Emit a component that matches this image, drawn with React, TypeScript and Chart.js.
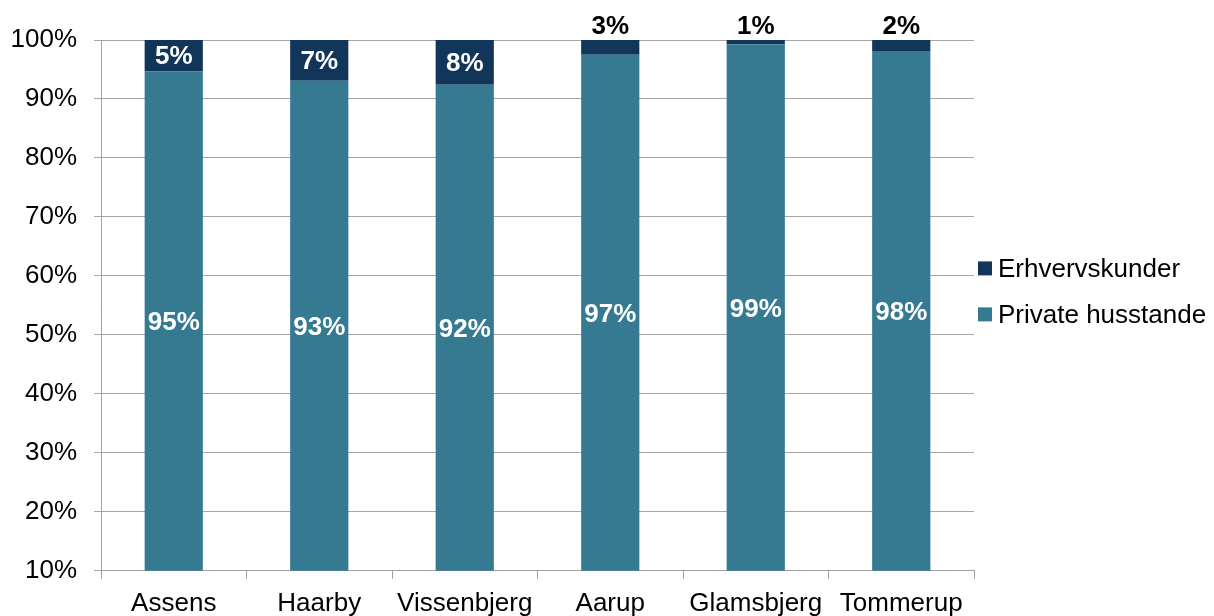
import React, { useEffect, useRef } from "react";
import { Chart, registerables } from "chart.js";

Chart.register(...registerables);

const categories = ["Assens", "Haarby", "Vissenbjerg", "Aarup", "Glamsbjerg", "Tommerup"];
const privateValues = [94.7, 93.1, 92.4, 97.5, 99.3, 98.0];
const businessValues = [5.3, 6.9, 7.6, 2.5, 0.7, 2.0];
const privateLabels = ["95%", "93%", "92%", "97%", "99%", "98%"];
const businessLabels = ["5%", "7%", "8%", "3%", "1%", "2%"];
const yTicks = [10, 20, 30, 40, 50, 60, 70, 80, 90, 100];
const legendItems = ["Erhvervskunder", "Private husstande"];

const FONT = "'Liberation Sans', Arial, sans-serif";
const TEAL = "#367A92";
const NAVY = "#12365A";
const legendColors = [NAVY, TEAL];

const labelPlugin = {
  id: "barLabels",
  afterDatasetsDraw(chart: any) {
    const ctx = chart.ctx;
    const area = chart.chartArea;
    ctx.save();
    ctx.font = `bold 26px ${FONT}`;
    ctx.textAlign = "center";
    ctx.textBaseline = "middle";
    const metaP = chart.getDatasetMeta(0);
    const metaB = chart.getDatasetMeta(1);
    metaP.data.forEach((el: any, i: number) => {
      const top = Math.max(Math.min(el.y, el.base), area.top);
      const bottom = Math.min(Math.max(el.y, el.base), area.bottom);
      ctx.fillStyle = "#FFFFFF";
      ctx.fillText(privateLabels[i], el.x, (top + bottom) / 2 + 2);
    });
    metaB.data.forEach((el: any, i: number) => {
      const top = Math.max(Math.min(el.y, el.base), area.top);
      const bottom = Math.min(Math.max(el.y, el.base), area.bottom);
      const h = bottom - top;
      if (h > 25) {
        ctx.fillStyle = "#FFFFFF";
        ctx.fillText(businessLabels[i], el.x, (top + bottom) / 2 + 1);
      } else {
        ctx.fillStyle = "#000000";
        ctx.fillText(businessLabels[i], el.x, top - 13);
      }
    });
    ctx.restore();
  },
  afterDraw(chart: any) {
    const ctx = chart.ctx;
    const area = chart.chartArea;
    ctx.save();
    ctx.font = `26px ${FONT}`;
    ctx.textAlign = "left";
    ctx.textBaseline = "middle";
    const x0 = area.right + 4;
    const yc = (area.top + area.bottom) / 2 - 14;
    const gap = 46;
    legendItems.forEach((txt, i) => {
      const y = yc - gap / 2 + i * gap;
      ctx.fillStyle = legendColors[i];
      ctx.fillRect(x0, y - 7, 14, 14);
      ctx.fillStyle = "#000000";
      ctx.fillText(txt, x0 + 20, y + 1);
    });
    ctx.restore();
  },
};

export default function App() {
  const ref = useRef<HTMLCanvasElement | null>(null);
  useEffect(() => {
    if (!ref.current) return;
    const chart = new Chart(ref.current, {
      type: "bar",
      data: {
        labels: categories,
        datasets: [
          {
            label: "Private husstande",
            data: privateValues,
            backgroundColor: TEAL,
            categoryPercentage: 1,
            barPercentage: 0.4,
          },
          {
            label: "Erhvervskunder",
            data: businessValues,
            backgroundColor: NAVY,
            categoryPercentage: 1,
            barPercentage: 0.4,
          },
        ],
      },
      options: {
        animation: false,
        responsive: true,
        maintainAspectRatio: false,
        layout: { padding: { top: 40, left: 10, right: 240, bottom: 2 } },
        scales: {
          x: {
            stacked: true,
            offset: true,
            grid: {
              display: true,
              offset: true,
              drawOnChartArea: false,
              drawTicks: true,
              tickLength: 8,
              color: "#A0A0A0",
            },
            border: { display: true, color: "#A0A0A0" },
            ticks: {
              color: "#000000",
              font: { family: FONT, size: 26 },
              padding: 9,
              maxRotation: 0,
              autoSkip: false,
            },
          },
          y: {
            stacked: true,
            min: 10,
            max: 100,
            afterBuildTicks(axis: any) {
              axis.ticks = yTicks.map((v) => ({ value: v }));
            },
            afterFit(axis: any) {
              axis.width = 91;
            },
            grid: {
              color: "#A6A6A6",
              drawTicks: true,
              tickLength: 7,
            },
            border: { display: true, color: "#A0A0A0" },
            ticks: {
              color: "#000000",
              font: { family: FONT, size: 26 },
              padding: 17,
              callback: (v: any) => `${v}%`,
            },
          },
        },
        plugins: {
          legend: { display: false },
          tooltip: { enabled: false },
        },
      },
      plugins: [labelPlugin],
    });
    return () => chart.destroy();
  }, []);
  return (
    <div style={{ position: "fixed", left: 0, top: 0, width: 1214, height: 630, background: "#fff" }}>
      <canvas ref={ref} />
    </div>
  );
}
